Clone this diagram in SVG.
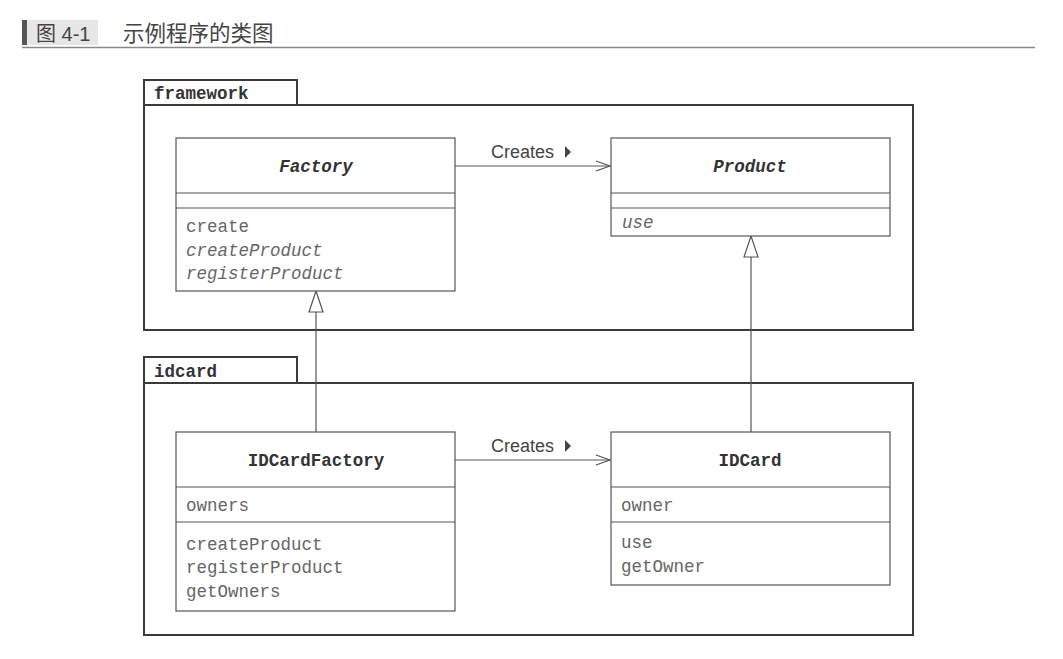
<svg xmlns="http://www.w3.org/2000/svg" width="1063" height="659" viewBox="0 0 1063 659">
<style>
.pkg{fill:none;stroke:#3a3a3a;stroke-width:2}
.cls{fill:#fff;stroke:#555;stroke-width:1.2}
.sep{stroke:#555;stroke-width:1.2}
.conn{stroke:#555;stroke-width:1.2;fill:none}
.tri{fill:#fff;stroke:#555;stroke-width:1.2}
.mono{font-family:"Liberation Mono","DejaVu Sans Mono",monospace;font-size:17.5px;fill:#666}
.title{font-family:"Liberation Mono","DejaVu Sans Mono",monospace;font-size:17.5px;font-weight:bold;fill:#333}
.lbl{font-family:"Liberation Sans",Arial,sans-serif;font-size:18px;fill:#444}
.it{font-style:italic}
</style>
<defs>
<marker id="open" viewBox="0 0 16 12" refX="15" refY="6" markerWidth="16" markerHeight="12" markerUnits="userSpaceOnUse" orient="auto">
<path d="M1,1 L15,6 L1,11" fill="none" stroke="#555" stroke-width="1.2"/>
</marker>
</defs>
<rect width="1063" height="659" fill="#fff"/>
<g id="header">
<rect x="22" y="20" width="5" height="25" fill="#555"/>
<rect x="27" y="20" width="71" height="25" fill="#e6e6e6"/>
<text x="36" y="41" style="font-family:'Liberation Sans','Noto Sans CJK SC',sans-serif;font-size:20px;fill:#444">图 4-1</text>
<text x="123" y="41" style="font-family:'Noto Sans CJK SC',sans-serif;font-size:21.5px;fill:#444">示例程序的类图</text>
<line x1="22" y1="47.5" x2="1035" y2="47.5" stroke="#888" stroke-width="1.5"/>
</g>
<g id="pkg-framework">
<rect class="pkg" x="144" y="80" width="153" height="25"/>
<rect class="pkg" x="144" y="105" width="769" height="225"/>
<text class="title" x="154" y="99">framework</text>
</g>
<g id="pkg-idcard">
<rect class="pkg" x="144" y="357" width="153" height="26"/>
<rect class="pkg" x="144" y="383" width="769" height="252"/>
<text class="title" x="154" y="377">idcard</text>
</g>
<g id="connectors">
<line class="conn" x1="455" y1="166" x2="610" y2="166" marker-end="url(#open)"/>
<text class="lbl" x="491" y="158">Creates</text>
<path d="M565,146 L571,152 L565,158 Z" fill="#444"/>
<line class="conn" x1="455" y1="460" x2="610" y2="460" marker-end="url(#open)"/>
<text class="lbl" x="491" y="452">Creates</text>
<path d="M565,440 L571,446 L565,452 Z" fill="#444"/>
<line class="conn" x1="316" y1="432" x2="316" y2="312"/>
<path class="tri" d="M316,291 L323,312 L309,312 Z"/>
<line class="conn" x1="751" y1="432" x2="751" y2="257"/>
<path class="tri" d="M751,236 L758,257 L744,257 Z"/>
</g>
<g id="Factory">
<rect class="cls" x="176" y="138" width="279" height="153"/>
<line class="sep" x1="176" y1="193" x2="455" y2="193"/>
<line class="sep" x1="176" y1="208" x2="455" y2="208"/>
<text class="title it" x="316" y="172" text-anchor="middle">Factory</text>
<text class="mono" x="186" y="232">create</text>
<text class="mono it" x="186" y="256">createProduct</text>
<text class="mono it" x="186" y="279">registerProduct</text>
</g>
<g id="Product">
<rect class="cls" x="611" y="138" width="279" height="98"/>
<line class="sep" x1="611" y1="193" x2="890" y2="193"/>
<line class="sep" x1="611" y1="208" x2="890" y2="208"/>
<text class="title it" x="750" y="172" text-anchor="middle">Product</text>
<text class="mono it" x="622" y="228">use</text>
</g>
<g id="IDCardFactory">
<rect class="cls" x="176" y="432" width="279" height="179"/>
<line class="sep" x1="176" y1="487" x2="455" y2="487"/>
<line class="sep" x1="176" y1="522" x2="455" y2="522"/>
<text class="title" x="316" y="466" text-anchor="middle">IDCardFactory</text>
<text class="mono" x="186" y="511">owners</text>
<text class="mono" x="186" y="550">createProduct</text>
<text class="mono" x="186" y="573">registerProduct</text>
<text class="mono" x="186" y="597">getOwners</text>
</g>
<g id="IDCard">
<rect class="cls" x="611" y="432" width="279" height="153"/>
<line class="sep" x1="611" y1="487" x2="890" y2="487"/>
<line class="sep" x1="611" y1="522" x2="890" y2="522"/>
<text class="title" x="750" y="466" text-anchor="middle">IDCard</text>
<text class="mono" x="621" y="511">owner</text>
<text class="mono" x="621" y="548">use</text>
<text class="mono" x="621" y="572">getOwner</text>
</g>
</svg>
